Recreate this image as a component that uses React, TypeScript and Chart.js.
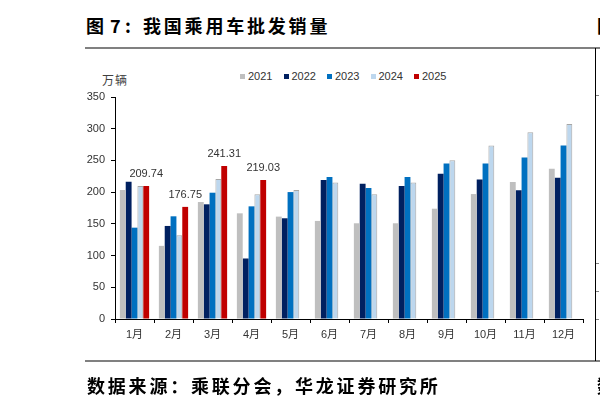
import React, { useEffect, useRef } from "react";
import { Chart, registerables } from "chart.js";

Chart.register(...registerables);

const months = ["1月", "2月", "3月", "4月", "5月", "6月", "7月", "8月", "9月", "10月", "11月", "12月"];
const seriesNames = ["2021", "2022", "2023", "2024", "2025"];
const sales2021 = [203.3, 115.3, 184.4, 166.6, 161.4, 154.6, 150.9, 150.9, 173.9, 197.0, 215.9, 236.8];
const sales2022 = [216.4, 146.7, 180.8, 95.4, 158.8, 219.0, 213.2, 209.6, 229.0, 220.0, 202.8, 222.7];
const sales2023 = [144.0, 161.9, 199.1, 177.6, 200.1, 223.7, 206.4, 223.7, 245.2, 245.2, 254.6, 273.5];
const sales2024 = [209.6, 132.0, 220.6, 196.5, 203.3, 215.3, 196.5, 215.3, 250.4, 273.5, 294.5, 307.6];
const sales2025 = [209.74, 176.75, 241.31, 219.03, null, null, null, null, null, null, null, null];
const yTicks = [0, 50, 100, 150, 200, 250, 300, 350];
const seriesColors = ["#BFBFBF", "#002060", "#0070C0", "#BDD7EE", "#C00000"];

const FONT = "'Liberation Sans', Arial, 'Noto Sans CJK SC', sans-serif";
const CJK_BOLD = "'Noto Sans CJK SC', sans-serif";

const valueLabelPlugin = {
  id: "valueLabels",
  afterDatasetsDraw(chart: any) {
    const ctx = chart.ctx;
    const meta = chart.getDatasetMeta(4);
    ctx.save();
    ctx.font = `11px ${FONT}`;
    ctx.fillStyle = "#333333";
    ctx.textAlign = "center";
    ctx.textBaseline = "middle";
    sales2025.forEach((v, i) => {
      if (v == null) return;
      const el = meta.data[i];
      ctx.fillText(v.toFixed(2), el.x, el.y - 12);
    });
    ctx.restore();
  },
};

export default function App() {
  const canvasRef = useRef<HTMLCanvasElement | null>(null);

  useEffect(() => {
    const seriesData = [sales2021, sales2022, sales2023, sales2024, sales2025];
    const chart = new Chart(canvasRef.current as HTMLCanvasElement, {
      type: "bar",
      data: {
        labels: months,
        datasets: seriesNames.map((name, i) => ({
          label: name,
          data: seriesData[i] as any,
          backgroundColor: seriesColors[i],
          borderColor: i === 3 ? "#A6A6A6" : seriesColors[i],
          borderWidth: i === 3 ? 1 : 0,
          categoryPercentage: 0.75,
          barPercentage: 1.0,
        })),
      },
      options: {
        responsive: false,
        animation: false,
        devicePixelRatio: 1,
        layout: { padding: { left: 75, right: 17, top: 97, bottom: 57 } },
        plugins: {
          legend: { display: false },
          tooltip: { enabled: false },
        },
        scales: {
          x: {
            grid: { display: true, drawOnChartArea: false, drawTicks: true, tickLength: 4, color: "#000000", offset: true },
            border: { display: true, color: "#000000", width: 1 },
            ticks: { color: "#333333", font: { size: 11, family: FONT }, padding: 5, maxRotation: 0, autoSkip: false },
            afterFit: (s: any) => { s.height = 30; },
          },
          y: {
            min: 0,
            max: 350,
            afterBuildTicks: (s: any) => { s.ticks = yTicks.map((v) => ({ value: v })); },
            grid: { display: true, drawOnChartArea: false, drawTicks: true, tickLength: 4, color: "#000000" },
            border: { display: true, color: "#000000", width: 1 },
            ticks: { color: "#333333", font: { size: 11, family: FONT }, padding: 6 },
            afterFit: (s: any) => { s.width = 40; },
          },
        },
      },
      plugins: [valueLabelPlugin],
    });
    return () => chart.destroy();
  }, []);

  const abs = (extra: React.CSSProperties): React.CSSProperties => ({ position: "absolute", whiteSpace: "nowrap", ...extra });
  const titleFont: React.CSSProperties = { fontFamily: CJK_BOLD, fontWeight: 700, fontSize: 18, lineHeight: "22px", color: "#000" };

  return (
    <div style={{ position: "fixed", left: 0, top: 0, width: 600, height: 406, background: "#ffffff", overflow: "hidden" }}>
      <div style={abs({ left: 86, top: 14, ...titleFont })}>图</div>
      <div style={abs({ left: 110, top: 14, ...titleFont })}>7</div>
      <div style={abs({ left: 125, top: 14, ...titleFont })}>:</div>
      <div style={abs({ left: 143, top: 14, ...titleFont, letterSpacing: "2.8px" })}>我国乘用车批发销量</div>
      <div style={abs({ left: 597, top: 14, ...titleFont })}>图</div>
      <div style={abs({ left: 85, top: 47, width: 515, height: 2, background: "#808080" })} />
      <div style={abs({ left: 85, top: 360, width: 515, height: 2, background: "#808080" })} />
      <div style={abs({ left: 595, top: 48, width: 1, height: 313, background: "#000000" })} />
      {[95, 263, 291, 319].map((y) => (
        <div key={y} style={abs({ left: 596, top: y, width: 3, height: 1, background: "#808080" })} />
      ))}
      <div style={abs({ left: 102, top: 72, fontFamily: "'Noto Sans CJK SC', sans-serif", fontSize: 12, lineHeight: "16px", letterSpacing: "1px", color: "#404040" })}>万辆</div>
      {seriesNames.map((name, i) => (
        <div key={name} style={abs({ left: 240 + i * 43.5, top: 69, height: 14, display: "flex", alignItems: "center" })}>
          <span style={{ display: "inline-block", width: 5, height: 5, background: seriesColors[i], marginRight: 3 }} />
          <span style={{ fontFamily: FONT, fontSize: 11, color: "#333333", lineHeight: "14px" }}>{name}</span>
        </div>
      ))}
      <canvas ref={canvasRef} width={600} height={406} style={{ position: "absolute", left: 0, top: 0, width: 600, height: 406 }} />
      <div style={abs({ left: 87, top: 374, ...titleFont, letterSpacing: "2.8px" })}>数据来源：乘联分会，华龙证券研究所</div>
      <div style={abs({ left: 597, top: 374, ...titleFont })}>数</div>
    </div>
  );
}
